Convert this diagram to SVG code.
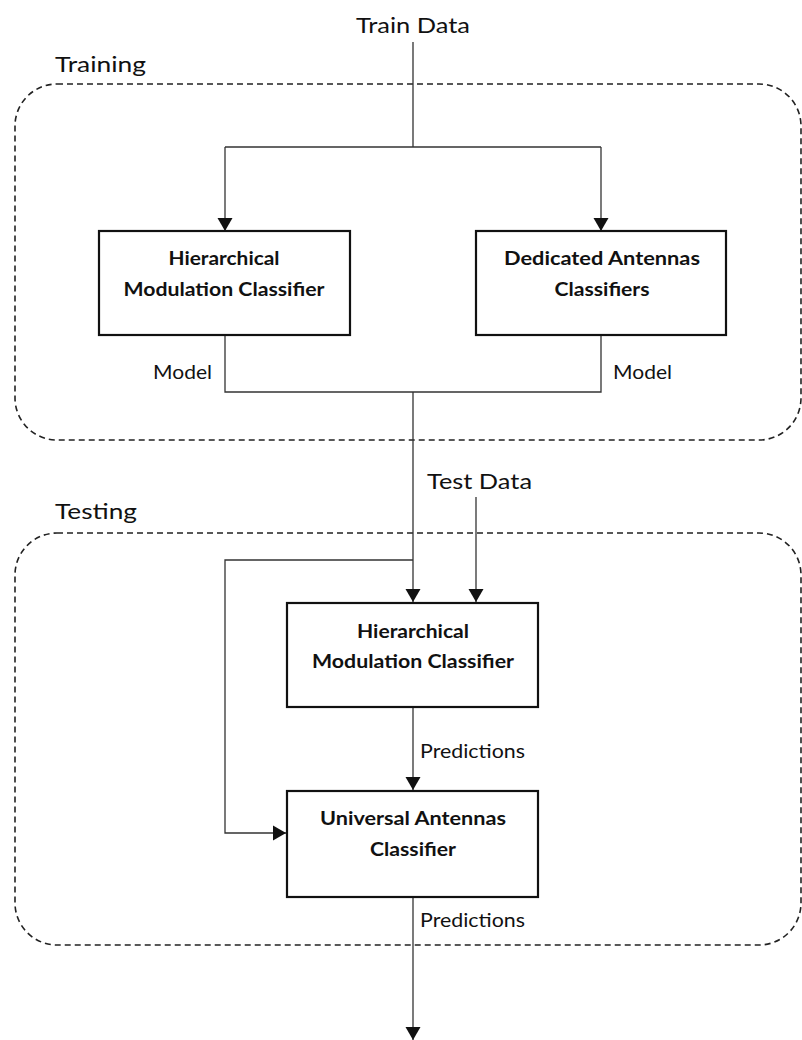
<svg xmlns="http://www.w3.org/2000/svg" width="802" height="1040" viewBox="0 0 802 1040">
<defs>
<marker id="arr" markerUnits="userSpaceOnUse" markerWidth="16" markerHeight="16" viewBox="0 0 16 16" refX="14" refY="8" orient="auto">
<path d="M1,0.5 L14,8 L1,15.5 Z" fill="#111"/>
</marker>
</defs>
<style>
.grp{fill:none;stroke:#222;stroke-width:1.6;stroke-dasharray:6,4}
.box{fill:#fff;stroke:#111;stroke-width:2.2}
.ln{fill:none;stroke:#333;stroke-width:1.3}
.bt{font-family:Lato,"Liberation Sans",sans-serif;font-weight:bold;font-size:19.5px;fill:#111;text-anchor:middle}
.lb{font-family:Lato,"Liberation Sans",sans-serif;font-size:19px;fill:#111}
.big{font-family:Lato,"Liberation Sans",sans-serif;font-size:22px;fill:#111}
</style>
<rect width="802" height="1040" fill="#fff"/>
<g id="training-group">
<rect class="grp" x="15" y="84" width="786" height="356" rx="42" ry="42"/>
<text class="big" x="55" y="72" textLength="91" lengthAdjust="spacingAndGlyphs">Training</text>
</g>
<g id="testing-group">
<rect class="grp" x="15" y="533" width="786" height="412" rx="42" ry="42"/>
<text class="big" x="55" y="519" textLength="82" lengthAdjust="spacingAndGlyphs">Testing</text>
</g>
<g id="labels">
<text class="big" x="356" y="33" textLength="114" lengthAdjust="spacingAndGlyphs">Train Data</text>
<text class="big" x="427" y="489" textLength="105" lengthAdjust="spacingAndGlyphs">Test Data</text>
<text class="lb" x="153" y="379" textLength="59" lengthAdjust="spacingAndGlyphs">Model</text>
<text class="lb" x="613" y="379" textLength="59" lengthAdjust="spacingAndGlyphs">Model</text>
<text class="lb" x="420" y="758" textLength="105" lengthAdjust="spacingAndGlyphs">Predictions</text>
<text class="lb" x="420" y="927" textLength="105" lengthAdjust="spacingAndGlyphs">Predictions</text>
</g>
<g id="connectors">
<path class="ln" d="M413,42 V147 M225,147 H601"/>
<path class="ln" d="M225,147 V231" marker-end="url(#arr)"/>
<path class="ln" d="M601,147 V231" marker-end="url(#arr)"/>
<path class="ln" d="M225,335 V392 H601 V335 M413,392 V560"/>
<path class="ln" d="M413,560 V602" marker-end="url(#arr)"/>
<path class="ln" d="M476,497 V602" marker-end="url(#arr)"/>
<path class="ln" d="M413,560 H225 V833 H286" marker-end="url(#arr)"/>
<path class="ln" d="M413,708 V790" marker-end="url(#arr)"/>
<path class="ln" d="M413,897 V1040" marker-end="url(#arr)"/>
</g>
<g id="train-hmc">
<rect class="box" x="99" y="231" width="251" height="104"/>
<text class="bt" x="224" y="265" textLength="111" lengthAdjust="spacingAndGlyphs">Hierarchical</text>
<text class="bt" x="224" y="296" textLength="201" lengthAdjust="spacingAndGlyphs">Modulation Classifier</text>
</g>
<g id="train-dac">
<rect class="box" x="476" y="231" width="250" height="104"/>
<text class="bt" x="602" y="265" textLength="196" lengthAdjust="spacingAndGlyphs">Dedicated Antennas</text>
<text class="bt" x="602" y="296" textLength="95" lengthAdjust="spacingAndGlyphs">Classifiers</text>
</g>
<g id="test-hmc">
<rect class="box" x="287" y="603" width="251" height="104"/>
<text class="bt" x="413" y="638" textLength="112" lengthAdjust="spacingAndGlyphs">Hierarchical</text>
<text class="bt" x="413" y="668" textLength="202" lengthAdjust="spacingAndGlyphs">Modulation Classifier</text>
</g>
<g id="test-uac">
<rect class="box" x="287" y="791" width="251" height="106"/>
<text class="bt" x="413" y="825" textLength="186" lengthAdjust="spacingAndGlyphs">Universal Antennas</text>
<text class="bt" x="413" y="856" textLength="86" lengthAdjust="spacingAndGlyphs">Classifier</text>
</g>
</svg>
